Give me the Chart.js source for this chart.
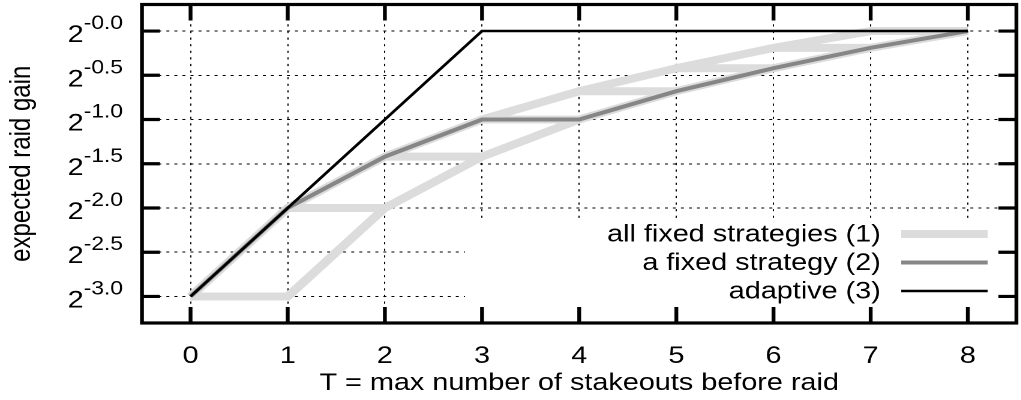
<!DOCTYPE html>
<html>
<head>
<meta charset="utf-8">
<script src="https://cdn.jsdelivr.net/npm/chart.js@4.4.1/dist/chart.umd.min.js"></script>
<style>
  html, body { margin: 0; padding: 0; background: #fff; overflow: hidden; }
  /* the reference is a gnuplot image stretched sideways, so draw narrow and scale */
  #wrap { width: 851px; height: 400px; transform: scaleX(1.2); transform-origin: 0 0; }
</style>
</head>
<body>
<div id="wrap"><canvas id="chart"></canvas></div>
<script>
const xTicks = [0, 1, 2, 3, 4, 5, 6, 7, 8];
const yTicks = [-3, -2.5, -2, -1.5, -1, -0.5, 0];
const yTickLabels = ['-3.0', '-2.5', '-2.0', '-1.5', '-1.0', '-0.5', '-0.0'];

// values are log2 of the expected gain
const allFixedLow = [-3, -3, -2, -1.42, -1, -0.68, -0.42, -0.19, 0];
const allFixedHigh = [-3, -2, -1.42, -1, -0.68, -0.42, -0.19, 0, 0];
const oneFixed = [-3, -2, -1.42, -1, -1, -0.68, -0.42, -0.19, 0];
const adaptive = [-3, -2, -1, 0, 0, 0, 0, 0, 0];

const FONT = "'Liberation Sans', Arial, sans-serif";
const LIGHT = '#dcdcdc';
const MID = '#868686';

function pts(ys) {
    return xTicks.map((x, i) => ({ x: x, y: ys[i] }));
}

// horizontal pieces that join the upper and lower edge of the fixed strategies
function stepPts() {
    const out = [];
    for (let i = 0; i < xTicks.length - 1; i++) {
        out.push({ x: xTicks[i], y: allFixedHigh[i] });
        out.push({ x: xTicks[i + 1], y: allFixedLow[i + 1] });
        out.push({ x: xTicks[i + 1], y: null });
    }
    return out;
}

const gnuplotFrame = {
    id: 'gnuplotFrame',
    beforeDatasetsDraw(chart) {
        // key box is opaque and hides the grid under it
        const { ctx, chartArea: a } = chart;
        ctx.save();
        ctx.fillStyle = '#fff';
        ctx.fillRect(387.5, 218, a.right - 387.5, a.bottom - 218);
        ctx.restore();
    },
    afterDraw(chart) {
        const { ctx, chartArea: a } = chart;
        const xs = chart.scales.x, ys = chart.scales.y;
        ctx.save();
        ctx.strokeStyle = '#000';
        ctx.lineWidth = 3.2;
        ctx.strokeRect(a.left, a.top, a.right - a.left, a.bottom - a.top);

        // inward ticks on all four sides
        ctx.beginPath();
        xTicks.forEach(v => {
            const px = xs.getPixelForValue(v);
            ctx.moveTo(px, a.bottom); ctx.lineTo(px, a.bottom - 16);
            ctx.moveTo(px, a.top); ctx.lineTo(px, a.top + 16);
        });
        yTicks.forEach(v => {
            const py = ys.getPixelForValue(v);
            ctx.moveTo(a.left, py); ctx.lineTo(a.left + 15, py);
            ctx.moveTo(a.right, py); ctx.lineTo(a.right - 15, py);
        });
        ctx.stroke();

        // y labels as 2 with a raised exponent
        ctx.fillStyle = '#000';
        ctx.textBaseline = 'alphabetic';
        ctx.textAlign = 'left';
        yTicks.forEach((v, i) => {
            const py = ys.getPixelForValue(v);
            ctx.font = '19px ' + FONT;
            const ws = ctx.measureText(yTickLabels[i]).width;
            ctx.font = '24px ' + FONT;
            const wb = ctx.measureText('2').width;
            const right = 102.5;
            ctx.fillText('2', right - ws - wb, py + 11);
            ctx.font = '19px ' + FONT;
            ctx.fillText(yTickLabels[i], right - ws, py - 2);
        });

        // key
        const rows = [234, 262.5, 291];
        const keyed = chart.data.datasets.filter(d => d.keyRow !== undefined);
        ctx.font = '24px ' + FONT;
        ctx.textAlign = 'right';
        ctx.textBaseline = 'middle';
        keyed.forEach(d => {
            const y = rows[d.keyRow];
            ctx.fillText(d.label, 734, y + 1);
            ctx.beginPath();
            ctx.strokeStyle = d.borderColor;
            ctx.lineWidth = d.borderWidth;
            ctx.moveTo(751, y);
            ctx.lineTo(823, y);
            ctx.stroke();
        });
        ctx.restore();
    }
};

const ctxMain = document.getElementById('chart').getContext('2d');
new Chart(ctxMain, {
    type: 'line',
    data: {
        datasets: [
            { label: 'adaptive (3)', keyRow: 2, data: pts(adaptive), borderColor: '#000000', borderWidth: 2.5, order: 0 },
            { label: 'a fixed strategy (2)', keyRow: 1, data: pts(oneFixed), borderColor: MID, borderWidth: 4, order: 1 },
            { label: 'all fixed strategies (1)', keyRow: 0, data: pts(allFixedLow), borderColor: LIGHT, borderWidth: 8, order: 2 },
            { label: 'all fixed strategies (1)', data: pts(allFixedHigh), borderColor: LIGHT, borderWidth: 8, order: 2 },
            { label: 'all fixed strategies (1)', data: stepPts(), borderColor: LIGHT, borderWidth: 8, order: 2, spanGaps: false }
        ]
    },
    options: {
        responsive: true,
        maintainAspectRatio: false,
        animation: false,
        devicePixelRatio: 2,
        layout: { padding: { top: 4.5, right: 0, bottom: 0, left: 0 } },
        elements: { point: { radius: 0 }, line: { tension: 0 } },
        plugins: { legend: { display: false }, tooltip: { enabled: false } },
        scales: {
            x: {
                type: 'linear',
                min: -0.5,
                max: 8.5,
                afterBuildTicks: s => { s.ticks = xTicks.map(v => ({ value: v })); },
                afterFit: s => { s.height = 77; },
                grid: { color: '#000', lineWidth: 1, drawTicks: false },
                border: { display: false, dash: [2.2, 4.4] },
                ticks: {
                    color: '#000',
                    font: { family: FONT, size: 24 },
                    padding: 19,
                    maxRotation: 0,
                    autoSkip: false,
                    callback: v => String(v)
                },
                title: {
                    display: true,
                    text: 'T = max number of stakeouts before raid',
                    color: '#000',
                    font: { family: FONT, size: 24 },
                    padding: { top: 0, bottom: 2 }
                }
            },
            y: {
                min: -3.3,
                max: 0.3,
                afterBuildTicks: s => { s.ticks = yTicks.map(v => ({ value: v })); },
                afterFit: s => { s.width = 118.3; },
                grid: { color: '#000', lineWidth: 1, drawTicks: false },
                border: { display: false, dash: [2.5, 4.2] },
                ticks: { display: false },
                title: {
                    display: true,
                    text: 'expected raid gain',
                    color: '#000',
                    font: { family: FONT, size: 24 },
                    padding: { top: 4, bottom: 0 }
                }
            }
        }
    },
    plugins: [gnuplotFrame]
});
</script>
</body>
</html>
